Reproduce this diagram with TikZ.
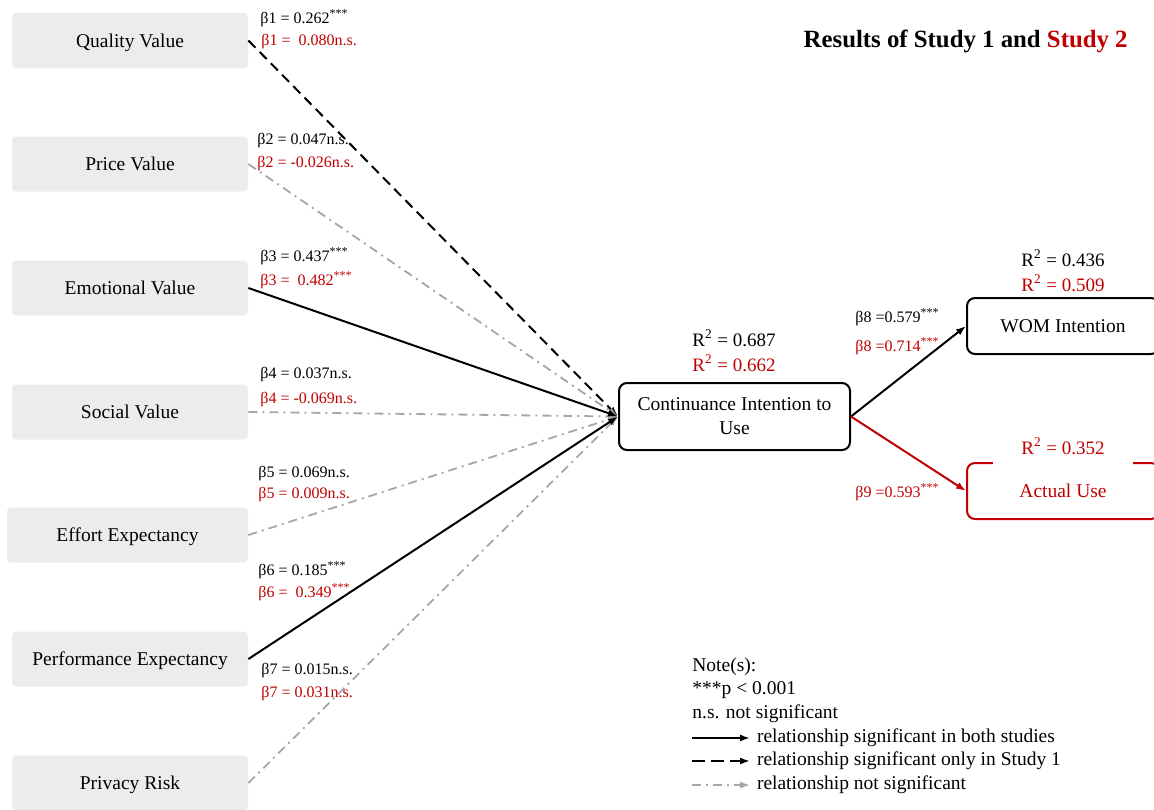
\documentclass[tikz,border=0pt]{standalone}
\usepackage{fontspec}
\setmainfont{Liberation Serif}
\usetikzlibrary{arrows.meta}

\definecolor{studyred}{HTML}{C00000}
\definecolor{nsgray}{HTML}{A6A6A6}
\definecolor{boxgray}{HTML}{ECECEC}

\tikzset{
  factor/.style={fill=boxgray, rounded corners=2pt, minimum width=118pt,
    minimum height=27.5pt, inner sep=0pt, text depth=0pt, font=\fontsize{9.75}{11.5}\selectfont},
  construct/.style={draw, line width=1pt, rounded corners=4pt, inner sep=0pt,
    text depth=0pt, align=center, font=\fontsize{9.75}{12}\selectfont},
  coef/.style={anchor=west, inner sep=0pt, font=\fontsize{8}{9.6}\selectfont},
  rsq/.style={inner sep=0pt, font=\fontsize{9.5}{11}\selectfont},
  note/.style={anchor=west, inner sep=0pt, font=\fontsize{9.75}{11.5}\selectfont},
  legtext/.style={anchor=west, inner sep=3.3pt, font=\fontsize{9.75}{11.5}\selectfont},
  sigboth/.style={line width=1pt, -{Latex[length=5pt,width=3.6pt]}},
  sigone/.style={sigboth, dash pattern=on 5pt off 3pt},
  nonsig/.style={nsgray, line width=0.9pt,
    dash pattern=on 4.5pt off 2.5pt on 1pt off 2.5pt, -{Latex[length=5pt,width=3.6pt]}},
}

\begin{document}
\begin{tikzpicture}[x=0.5pt, y=-0.5pt]
    \useasboundingbox (0,0) rectangle (1154,809);
    \clip (0,0) rectangle (1154,809);

    % antecedents
    \node[factor] (qv) at (130,40.5) {Quality Value};
    \node[factor] (pv) at (130,164) {Price Value};
    \node[factor] (ev) at (130,288) {Emotional Value};
    \node[factor] (sv) at (130,412) {Social Value};
    \node[factor, minimum width=120.5pt] (ee) at (127.5,535) {Effort Expectancy};
    \node[factor] (pe) at (130,659) {Performance Expectancy};
    \node[factor] (pr) at (130,783) {Privacy Risk};

    % outcomes
    \node[construct, minimum width=115.5pt, minimum height=33.5pt] (ci) at (734.5,416.5)
      {Continuance Intention to\\Use};
    \node[construct, minimum width=96pt, minimum height=28pt] (wom) at (1063,326) {WOM Intention};
    \node[construct, draw=studyred, text=studyred, minimum width=96pt, minimum height=28pt]
      (au) at (1063,491) {Actual Use};

    \draw[sigone] (qv.east) -- (ci.west);
    \draw[nonsig] (pv.east) -- (ci.west);
    \draw[nonsig] (sv.east) -- (ci.west);
    \draw[nonsig] (ee.east) -- (ci.west);
    \draw[nonsig] (pr.east) -- (ci.west);
    \draw[sigboth] (ev.east) -- (ci.west);
    \draw[sigboth] (pe.east) -- (ci.west);
    \draw[sigboth] (ci.east) -- (wom.west);
    \draw[sigboth, studyred] (ci.east) -- (au.west);

    % path coefficients
    \node[coef] (b1a) at (260,18) {β1 = 0.262\textsuperscript{***}};
    \node[coef, studyred] (b1b) at (261,42) {β1 = \ 0.080n.s.};
    \node[coef] (b2a) at (257,141) {β2 = 0.047n.s.};
    \node[coef, studyred] (b2b) at (257,164) {β2 = -0.026n.s.};
    \node[coef] (b3a) at (260,256) {β3 = 0.437\textsuperscript{***}};
    \node[coef, studyred] (b3b) at (260,280) {β3 = \ 0.482\textsuperscript{***}};
    \node[coef] (b4a) at (260,375) {β4 = 0.037n.s.};
    \node[coef, studyred] (b4b) at (260,400) {β4 = -0.069n.s.};
    \node[coef] (b5a) at (258,474) {β5 = 0.069n.s.};
    \node[coef, studyred] (b5b) at (258,495) {β5 = 0.009n.s.};
    \node[coef] (b6a) at (258,570) {β6 = 0.185\textsuperscript{***}};
    \node[coef, studyred] (b6b) at (258,592) {β6 = \ 0.349\textsuperscript{***}};
    \node[coef] (b7a) at (261,671) {β7 = 0.015n.s.};
    \node[coef, studyred] (b7b) at (261,694) {β7 = 0.031n.s.};
    \node[coef] (b8a) at (855,317) {β8 =0.579\textsuperscript{***}};
    \node[coef, studyred] (b8b) at (855,346) {β8 =0.714\textsuperscript{***}};
    \node[coef, studyred] (b9) at (855,492) {β9 =0.593\textsuperscript{***}};

    % explained variance
    \node[rsq] (rci1) at (734,338) {R\textsuperscript{2} = 0.687};
    \node[rsq, studyred] (rci2) at (734,363) {R\textsuperscript{2} = 0.662};
    \node[rsq] (rwom1) at (1063,258) {R\textsuperscript{2} = 0.436};
    \node[rsq, studyred] (rwom2) at (1063,283) {R\textsuperscript{2} = 0.509};
    \node[rsq, studyred, fill=white, minimum width=70pt, minimum height=20pt] (rau) at (1063,446)
      {R\textsuperscript{2} = 0.352};

    \node[anchor=east, inner sep=0pt, font=\fontsize{12.4}{14}\selectfont\bfseries] (title) at (1128,41)
      {Results of Study 1 and \textcolor{studyred}{Study 2}};

    % legend
    \node[note] (note1) at (692,667) {Note(s):};
    \node[note] (note2) at (692,690) {***p < 0.001};
    \node[note] (note3) at (692,714) {n.s. not significant};
    \coordinate (leg1) at (692,738);
    \coordinate (leg2) at (692,761);
    \coordinate (leg3) at (692,785);
    \node[legtext] (leg1t) at (750,738) {relationship significant in both studies};
    \node[legtext] (leg2t) at (750,761) {relationship significant only in Study 1};
    \node[legtext] (leg3t) at (750,785) {relationship not significant};
    \draw[sigboth] (leg1) -- (leg1t.west);
    \draw[sigboth, dash pattern=on 6.5pt off 3pt] (leg2) -- (leg2t.west);
    \draw[nonsig] (leg3) -- (leg3t.west);
\end{tikzpicture}
\end{document}
